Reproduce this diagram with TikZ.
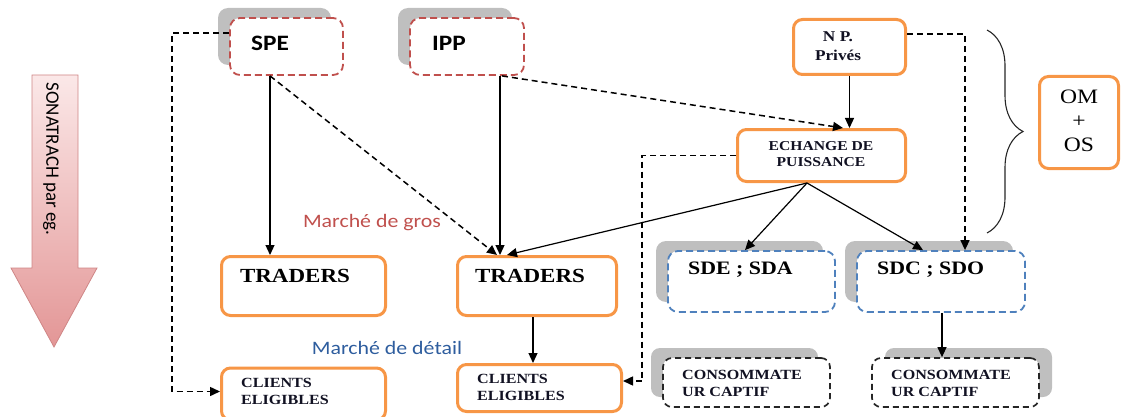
\documentclass[tikz,border=0pt]{standalone}
\usepackage{fontspec}
\setmainfont{Liberation Serif}[FakeStretch=1.15]
\newfontfamily\calib{Carlito}[FakeStretch=1.15]
\newfontfamily\calibplain{Carlito}
\usetikzlibrary{arrows.meta,shadows,decorations.pathreplacing}

\definecolor{orangeline}{HTML}{F79646}
\definecolor{redline}{HTML}{C0504D}
\definecolor{blueline}{HTML}{4F81BD}
\definecolor{shadowgray}{HTML}{BFBFBF}
\definecolor{detailblue}{HTML}{2E5D9E}
\definecolor{arrowtop}{HTML}{FBE8E8}
\definecolor{arrowbot}{HTML}{E39696}
\definecolor{arrowedge}{HTML}{CF8686}
\definecolor{inkdark}{HTML}{111122}

\tikzset{
  orangebox/.style={draw=orangeline, line width=3pt, rounded corners=9pt, fill=white, inner sep=0pt},
  shadowleft/.style={drop shadow={shadow xshift=-12pt, shadow yshift=10pt, fill=shadowgray, opacity=1}},
  shadowright/.style={drop shadow={shadow xshift=13pt, shadow yshift=10pt, fill=shadowgray, opacity=1}},
  redbox/.style={draw=redline, line width=1.8pt, dash pattern=on 7pt off 4pt, rounded corners=10pt, fill=white, inner sep=0pt, shadowleft},
  bluebox/.style={draw=blueline, line width=1.8pt, dash pattern=on 7pt off 4pt, rounded corners=10pt, fill=white, inner sep=0pt, shadowleft},
  blackbox/.style={draw=black!85, line width=1.7pt, dash pattern=on 6pt off 4pt, rounded corners=9pt, fill=white, inner sep=0pt},
  arr/.style={-{Triangle[length=10pt,width=9pt]}, line width=1.2pt},
  dasharr/.style={arr, line width=1.5pt, dash pattern=on 6pt off 4pt},
  bigtxt/.style={font=\bfseries\fontsize{20}{24}\selectfont, inner sep=0pt},
  smalltxt/.style={font=\bfseries\fontsize{14}{17}\selectfont, inner sep=0pt, align=left, text=inkdark},
  sanstxt/.style={font=\calib\bfseries\fontsize{22}{26}\selectfont, inner sep=0pt},
}

\begin{document}
\begin{tikzpicture}[x=1pt, y=-1pt]
\useasboundingbox (0,0) rectangle (1123,417);

% downward flow arrow on the left
\draw[draw=arrowedge, line width=0.8pt, top color=arrowtop, bottom color=arrowbot]
  (32,75) -- (78,75) -- (78,268) -- (97,268) -- (54,347) -- (11,268) -- (32,268) -- cycle;
\node[rotate=-90, font=\calibplain\fontsize{19}{22}\selectfont, inner sep=0pt] (sonatrach) at (51,159) {SONATRACH par eg.};

% producers
\node[redbox, minimum width=113pt, minimum height=57pt] (spe) at (286.5,46.5) {};
\node[sanstxt] (spetxt) at (270,43) {SPE};
\node[redbox, minimum width=114pt, minimum height=57pt] (ipp) at (467,46.5) {};
\node[sanstxt] (ipptxt) at (449,43) {IPP};
\node[orangebox, minimum width=112pt, minimum height=55pt] (np) at (849.5,47) {};
\node[font=\bfseries\fontsize{15}{19}\selectfont, align=center, inner sep=0pt, text=inkdark] (nptxt) at (838,46) {N P.\\Privés};

% power exchange
\node[orangebox, minimum width=168pt, minimum height=52pt] (ech) at (821.5,155.5) {};
\node[font=\bfseries\fontsize{13.6}{16}\selectfont, align=center, inner sep=0pt, text=inkdark] (echtxt) at (821,154) {ECHANGE DE\\PUISSANCE};

% operators
\node[orangebox, minimum width=79pt, minimum height=92pt] (om) at (1079,122.5) {};
\node[font=\fontsize{20.5}{24}\selectfont, align=center, inner sep=0pt] (omtxt) at (1079,121) {OM\\+\\OS};
\draw[line width=1.1pt, draw=black!85, decorate, decoration={brace, amplitude=36pt, aspect=0.5}]
  (987,30) -- (987,233);

% wholesale traders
\node[orangebox, minimum width=164pt, minimum height=59pt] (trL) at (303.5,286) {};
\node[bigtxt] (trLtxt) at (295,276) {TRADERS};
\node[orangebox, minimum width=159pt, minimum height=59pt] (trM) at (537,286) {};
\node[bigtxt] (trMtxt) at (530,276) {TRADERS};

% distribution companies
\node[bluebox, minimum width=167pt, minimum height=61pt] (sde) at (751.5,281.5) {};
\node[bigtxt, anchor=west, font=\bfseries\fontsize{19}{23}\selectfont] (sdetxt) at (688,270) {SDE ; SDA};
\node[bluebox, minimum width=168pt, minimum height=61pt] (sdc) at (941,281.5) {};
\node[bigtxt, anchor=west, font=\bfseries\fontsize{19}{23}\selectfont] (sdctxt) at (877,270) {SDC ; SDO};

% eligible clients
\node[orangebox, minimum width=164pt, minimum height=52pt] (clL) at (303.5,394) {};
\node[smalltxt, anchor=west] (clLtxt) at (241,391.5) {CLIENTS\\ELIGIBLES};
\node[orangebox, minimum width=164pt, minimum height=47pt] (clM) at (539.5,388) {};
\node[smalltxt, anchor=west] (clMtxt) at (477,387.5) {CLIENTS\\ELIGIBLES};

% captive consumers
\node[blackbox, shadowleft, minimum width=167pt, minimum height=49pt] (ccL) at (746.5,382.5) {};
\node[smalltxt, anchor=west] (ccLtxt) at (682,383.5) {CONSOMMATE\\UR CAPTIF};
\node[blackbox, shadowright, minimum width=167pt, minimum height=49pt] (ccR) at (955.5,382.5) {};
\node[smalltxt, anchor=west] (ccRtxt) at (891,383.5) {CONSOMMATE\\UR CAPTIF};

% market labels
\node[font=\calib\fontsize{19}{22}\selectfont, text=redline, inner sep=0pt] (gros) at (372,223) {Marché de gros};
\node[font=\calib\fontsize{19}{22}\selectfont, text=detailblue, inner sep=0pt] (detail) at (387,348) {Marché de détail};

% flows
\draw[arr] ([xshift=-16.5pt]spe.south) -- ([xshift=-33.5pt]trL.north);
\draw[dasharr] ([xshift=-16.5pt]spe.south) -- ([xshift=-40pt]trM.north);
\draw[arr] ([xshift=33pt]ipp.south) -- ([xshift=-37pt]trM.north);
\draw[dasharr] ([xshift=35pt]ipp.south) -- ([xshift=21.5pt]ech.north);
\draw[arr] (np.south) -- ([xshift=28pt]ech.north);
\draw[arr] ([xshift=-14.5pt]ech.south) -- ([xshift=-30pt]trM.north);
\draw[arr] ([xshift=-14.5pt]ech.south) -- ([xshift=-6.5pt]sde.north);
\draw[arr] ([xshift=-14.5pt]ech.south) -- ([xshift=-18pt]sdc.north);
\draw[dasharr] ([yshift=13pt]np.east) -| ([xshift=24pt]sdc.north);
\draw[dasharr] (ech.west) -- ++(-94,0) |- ([yshift=7pt]clM.east);
\draw[dasharr] ([yshift=13.5pt]spe.west) -- ++(-57,0) |- ([yshift=2.5pt]clL.west);
\draw[arr] ([xshift=-4pt]trM.south) -- ([xshift=-6.5pt]clM.north);
\draw[arr] ([xshift=1pt]sdc.south) -- ([xshift=-13.5pt]ccR.north);
\end{tikzpicture}
\end{document}
